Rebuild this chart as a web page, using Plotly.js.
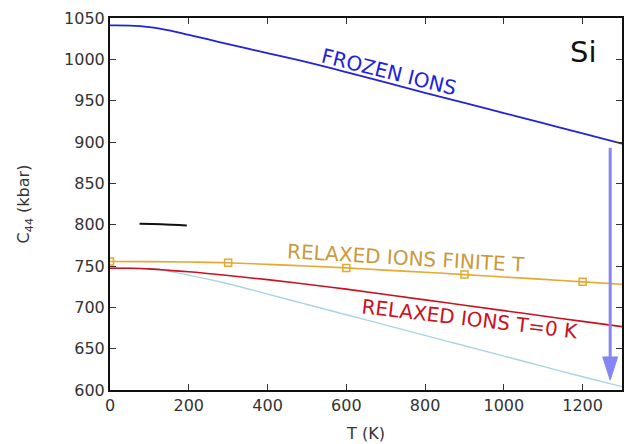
<!DOCTYPE html>
<html>
<head>
<meta charset="utf-8">
<script src="https://cdn.plot.ly/plotly-3.0.1.min.js"></script>
<style>html,body{margin:0;padding:0;background:#fff;}#chart{width:628px;height:444px;}</style>
</head>
<body>
<div id="chart"></div>
<script>
// Temperature grid (K) and curves (kbar)
const T_frozen = [0, 50, 100, 150, 200, 250, 300, 350, 400, 500, 600, 700, 800, 900, 1000, 1100, 1200, 1300];
const C_frozen = [1041, 1040.8, 1039, 1035, 1029.5, 1024, 1018.5, 1013, 1007.5, 996.5, 984.5, 972, 959.5, 947.3, 935, 922.7, 910.4, 898];

const T_finite = [0, 100, 200, 300, 400, 500, 600, 700, 800, 900, 1000, 1100, 1200, 1300];
const C_finite = [755.5, 755.3, 754.8, 754, 752, 750, 747.7, 745, 742.5, 739.6, 736.7, 733.8, 730.8, 728];

const T_finite_pts = [0, 300, 600, 900, 1200];
const C_finite_pts = [755.5, 754, 747.7, 739.6, 730.8];

const T_relax0 = [0, 50, 100, 150, 200, 300, 400, 500, 600, 700, 800, 900, 1000, 1100, 1200, 1300];
const C_relax0 = [747.3, 747.2, 746.5, 744.7, 743, 738.5, 733.5, 728, 722, 715.5, 709, 702.5, 696, 689.5, 683, 676.6];

const T_light = [0, 50, 100, 130, 200, 300, 400, 500, 600, 700, 800, 900, 1000, 1100, 1200, 1300];
const C_light = [747.3, 747.2, 746.5, 745, 739, 728.5, 716, 703.5, 691, 678.5, 666, 653.5, 641, 628.5, 616, 604];

const T_stroke = [75, 130, 195];
const C_stroke = [801, 800.5, 799];

// Arrow (frozen -> relaxed drop)
const arrowT = 1270;
const arrowTop = 893;
const arrowBase = 640;
const arrowTip = 612;
const arrowHalfW = 19;

const xTicks = [0, 200, 400, 600, 800, 1000, 1200];
const yTicks = [600, 650, 700, 750, 800, 850, 900, 950, 1000, 1050];

const FONT = '"DejaVu Sans", "Open Sans", sans-serif';

const traces = [
  {x: T_light, y: C_light, mode: 'lines', line: {color: '#a9d3e3', width: 1.4, shape: 'spline'}, hoverinfo: 'skip'},
  {x: T_relax0, y: C_relax0, mode: 'lines', line: {color: '#cc1020', width: 1.6, shape: 'spline'}, hoverinfo: 'skip'},
  {x: T_finite, y: C_finite, mode: 'lines', line: {color: '#e8a830', width: 1.6, shape: 'spline'}, hoverinfo: 'skip'},
  {x: T_finite_pts, y: C_finite_pts, mode: 'markers', marker: {symbol: 'square-open', size: 7, color: '#e8a830', line: {width: 1.5, color: '#e8a830'}}, hoverinfo: 'skip'},
  {x: T_frozen, y: C_frozen, mode: 'lines', line: {color: '#2222dd', width: 1.8, shape: 'spline'}, hoverinfo: 'skip'},
  {x: T_stroke, y: C_stroke, mode: 'lines', line: {color: '#111111', width: 2, shape: 'spline'}, hoverinfo: 'skip'}
];

const layout = {
  width: 628, height: 444,
  margin: {l: 110, r: 6, t: 18, b: 54},
  paper_bgcolor: '#ffffff', plot_bgcolor: '#ffffff',
  showlegend: false,
  font: {family: FONT, color: '#333333', size: 16},
  xaxis: {
    range: [0, 1300], tickvals: xTicks, ticktext: xTicks.map(String),
    ticks: 'inside', ticklen: 6, tickwidth: 1, tickcolor: '#333',
    showline: true, linecolor: '#111', linewidth: 2, mirror: 'ticks',
    showgrid: false, zeroline: false,
    tickfont: {family: FONT, size: 16, color: '#333'},
    title: {text: 'T (K)', font: {family: FONT, size: 16, color: '#333'}, standoff: 14}
  },
  yaxis: {
    range: [600, 1050], tickvals: yTicks, ticktext: yTicks.map(String),
    ticks: 'inside', ticklen: 6, tickwidth: 1, tickcolor: '#333',
    showline: true, linecolor: '#111', linewidth: 2, mirror: 'ticks',
    showgrid: false, zeroline: false,
    tickfont: {family: FONT, size: 16, color: '#333'},
    title: {text: 'C<sub>44</sub> (kbar)', font: {family: FONT, size: 16, color: '#333'}, standoff: 30}
  },
  shapes: [
    {type: 'line', xref: 'x', yref: 'y', x0: arrowT, x1: arrowT, y0: arrowTop, y1: arrowBase,
     line: {color: '#8585f5', width: 3}},
    {type: 'path', xref: 'x', yref: 'y',
     path: 'M' + (arrowT - arrowHalfW) + ',' + arrowBase + ' L' + (arrowT + arrowHalfW) + ',' + arrowBase + ' L' + arrowT + ',' + arrowTip + ' Z',
     fillcolor: '#8585f5', line: {color: '#8585f5', width: 1}}
  ],
  annotations: [
    {x: 709, y: 985, xref: 'x', yref: 'y', text: 'FROZEN IONS', showarrow: false, textangle: 14,
     font: {family: FONT, size: 20, color: '#2222dd'}},
    {x: 752, y: 760, xref: 'x', yref: 'y', text: 'RELAXED IONS FINITE T', showarrow: false, textangle: 3.3,
     font: {family: FONT, size: 20, color: '#c99a3c'}},
    {x: 915, y: 686, xref: 'x', yref: 'y', text: 'RELAXED IONS T=0 K', showarrow: false, textangle: 6.7,
     font: {family: FONT, size: 20, color: '#cc1020'}},
    {x: 1200, y: 1009, xref: 'x', yref: 'y', text: 'Si', showarrow: false,
     font: {family: FONT, size: 29, color: '#111'}}
  ]
};

Plotly.newPlot('chart', traces, layout, {staticPlot: true, displayModeBar: false});
</script>
</body>
</html>
